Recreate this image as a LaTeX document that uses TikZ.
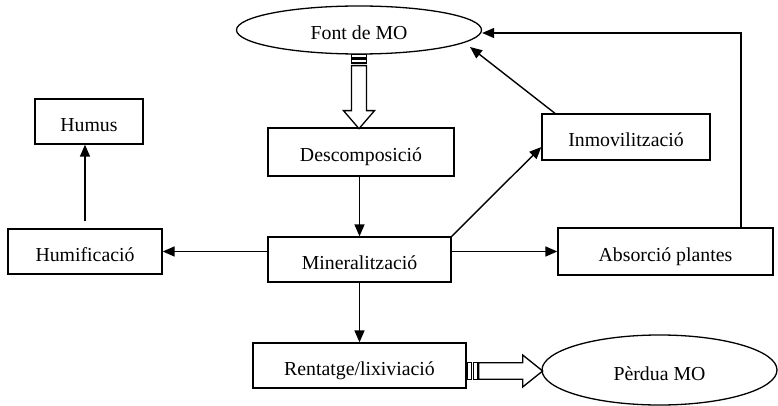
\documentclass[tikz,border=0pt]{standalone}
\usepackage{fontspec}
\setmainfont{Liberation Serif}
\usetikzlibrary{arrows.meta,shapes.geometric}
\tikzset{
  box/.style={draw, line width=1.3pt, rectangle, inner sep=0pt, align=center, text height=20pt, text depth=0pt},
  oval/.style={draw, line width=1.3pt, ellipse, inner sep=0pt, text height=20pt, text depth=0pt},
  arr/.style={line width=1.4pt, -{Triangle[length=12pt,width=10pt]}},
  hollow/.style={draw, line width=1.3pt, fill=white, line join=miter},
}
\begin{document}
\begin{tikzpicture}[x=1pt,y=-1pt, font=\fontsize{19.8}{22}\selectfont]
\useasboundingbox (0,0) rectangle (778,406);
\node[oval, minimum width=245, minimum height=48] (font) at (359,30) {Font de MO};
\node[box, minimum width=186, minimum height=48] (desc) at (361,152) {Descomposició};
\node[box, minimum width=108, minimum height=45] (humus) at (89,121.5) {Humus};
\node[box, minimum width=154, minimum height=45] (humif) at (85,251.5) {Humificació};
\node[box, minimum width=183, minimum height=45] (mineral) at (359.5,259.5) {Mineralització};
\node[box, minimum width=215, minimum height=47] (absorc) at (665.5,251.5) {Absorció plantes};
\node[box, minimum width=168, minimum height=46] (inmov) at (626,137) {Inmovilització};
\node[box, minimum width=213, minimum height=45] (rent) at (359.5,365.5) {Rentatge/lixiviació};
\node[oval, minimum width=235, minimum height=70] (perdua) at (659.5,370) {Pèrdua MO};
\coordinate (fontA) at (470,47);

% connectors
\draw[arr] (desc.south -| mineral.north) -- (mineral.north);
\draw[arr] (mineral.west |- humif) -- (humif.east);
\draw[arr] (mineral.east |- absorc) -- (absorc.west);
\draw[arr] (mineral.north east) -- ([yshift=-10pt]inmov.west);
\draw[arr] ([xshift=-71pt]inmov.north) -- (fontA);
\draw[arr] ([xshift=75.5pt]absorc.north) |- ([yshift=-3pt]font.east);
\draw[arr] ([yshift=7pt]humif.north) -- (humif.north |- humus.south);
\draw[arr] (mineral.south) -- (rent.north);

% hollow striped arrow: Font de MO -> Descomposicio
\begin{scope}[shift={(font.south)}]
  \draw[hollow] (-7.5,0) rectangle (7.5,3);
  \draw[hollow] (-7.5,4.5) rectangle (7.5,8.5);
  \draw[hollow] (-7.5,11) -- (7.5,11) -- (7.5,56) -- (15.5,56) -- (0,74) -- (-15.5,56) -- (-7.5,56) -- cycle;
\end{scope}
% hollow striped arrow: Rentatge -> Perdua MO
\begin{scope}[shift={([yshift=-5.5pt]rent.east)}]
  \draw[hollow] (1,-8.3) rectangle (5,8.3);
  \draw[hollow] (6.5,-8.3) rectangle (10.5,8.3);
  \draw[hollow] (12,-8.3) -- (56,-8.3) -- (56,-16) -- (76,0) -- (56,16) -- (56,8.3) -- (12,8.3) -- cycle;
\end{scope}
\end{tikzpicture}
\end{document}
